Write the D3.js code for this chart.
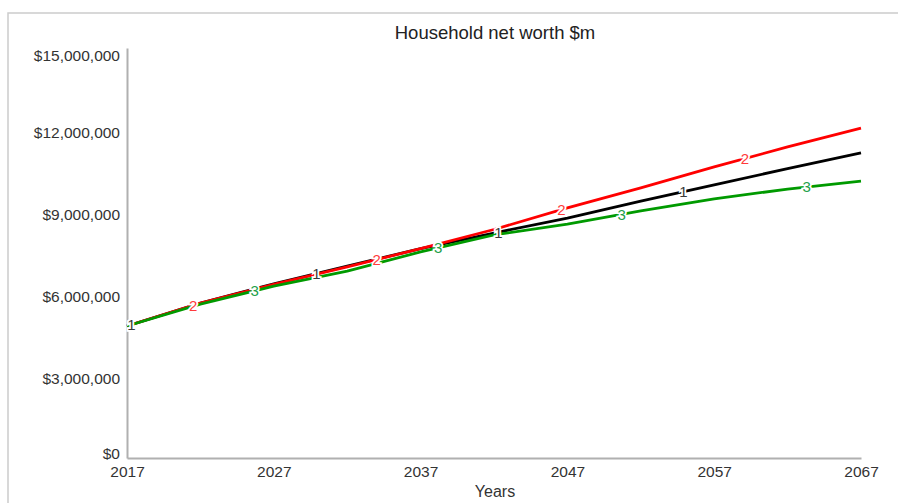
<!DOCTYPE html>
<html>
<head>
<meta charset="utf-8">
<script src="https://cdn.jsdelivr.net/npm/d3@7"></script>
<style>
  html, body { margin: 0; padding: 0; background: #fff; }
  svg { display: block; font-family: "Liberation Sans", Arial, sans-serif; }
</style>
</head>
<body>
<svg id="chart" width="898" height="503"></svg>
<script>
// Projected household net worth, three scenarios ($)
const years = [2017, 2022, 2027, 2032, 2037, 2042, 2047, 2052, 2057, 2062, 2067];
const series1 = [4.83e6, 5.67e6, 6.37e6, 7.02e6, 7.66e6, 8.23e6, 8.78e6, 9.40e6, 9.99e6, 10.59e6, 11.16e6];
const series2 = [4.83e6, 5.67e6, 6.35e6, 6.99e6, 7.66e6, 8.36e6, 9.15e6, 9.88e6, 10.65e6, 11.38e6, 12.07e6];
const series3 = [4.83e6, 5.63e6, 6.29e6, 6.84e6, 7.54e6, 8.16e6, 8.56e6, 9.04e6, 9.48e6, 9.84e6, 10.13e6];
const seriesNames = ["1", "2", "3"];
const lineColors = ["#000000", "#ff0000", "#009a00"];
const labelColors = ["#3a3a3a", "#ff3b3b", "#22a04a"];
// Years at which the series number is written on its line (cycling 1, 2, 3)
const labelYears = [2017.3, 2021.5, 2025.7, 2029.9, 2034.0, 2038.2, 2042.3, 2046.6, 2050.7, 2054.9, 2059.1, 2063.3];
const xTicks = [2017, 2027, 2037, 2047, 2057, 2067];
const yTicks = [0, 3e6, 6e6, 9e6, 12e6, 15e6];
const titleText = "Household net worth $m";
const xTitle = "Years";

const allSeries = [series1, series2, series3];
const svg = d3.select("#chart");

// Outer frame
svg.append("rect")
  .attr("x", 8).attr("y", 13)
  .attr("width", 1000).attr("height", 600)
  .attr("fill", "none")
  .attr("stroke", "#cccccc")
  .attr("stroke-width", 1.5);

const x = d3.scaleLinear().domain([2017, 2067]).range([127, 861]);
const y = d3.scaleLinear().domain([0, 15e6]).range([458, 48]);

// Title
svg.append("text")
  .attr("x", 495).attr("y", 39)
  .attr("text-anchor", "middle")
  .attr("font-size", 18.5)
  .attr("fill", "#222")
  .text(titleText);

// X axis
const xAxis = svg.append("g")
  .attr("transform", `translate(0,${y(0)})`)
  .call(d3.axisBottom(x).tickValues(xTicks).tickFormat(d3.format("d")).tickSize(0).tickPadding(8));
xAxis.select(".domain").attr("stroke", "#b0b0b0").attr("stroke-width", 2);
xAxis.selectAll("text").attr("font-size", 15.5).attr("fill", "#333")
  .attr("font-family", "Liberation Sans, Arial, sans-serif");

// Y axis
const fmt = d => "$" + d3.format(",")(d);
const yAxis = svg.append("g")
  .attr("transform", `translate(${x(2017)},0)`)
  .call(d3.axisLeft(y).tickValues(yTicks).tickFormat(fmt).tickSize(0).tickPadding(7));
yAxis.select(".domain").attr("stroke", "#b0b0b0").attr("stroke-width", 2);
yAxis.selectAll("text")
  .attr("font-size", 15.5).attr("fill", "#333")
  .attr("font-family", "Liberation Sans, Arial, sans-serif")
  .attr("y", d => Math.max(56, Math.min(454, y(d) + 2.5)) - y(d));

// X axis title
svg.append("text")
  .attr("x", 495).attr("y", 497)
  .attr("text-anchor", "middle")
  .attr("font-size", 16)
  .attr("fill", "#333")
  .text(xTitle);

// Lines
const line = d3.line()
  .x((d, i) => x(years[i]))
  .y(d => y(d))
  .curve(d3.curveLinear);

svg.append("g").selectAll("path")
  .data(allSeries)
  .join("path")
  .attr("d", d => line(d))
  .attr("fill", "none")
  .attr("stroke", (d, i) => lineColors[i])
  .attr("stroke-width", 2.8)
  .attr("stroke-linejoin", "round");

// Value of a series at a given year (linear between data points)
function valueAt(vals, yr) {
  const interp = d3.scaleLinear().domain(years).range(vals);
  return interp(yr);
}

// Series numbers written on the lines
svg.append("g").selectAll("text")
  .data(labelYears)
  .join("text")
  .attr("x", d => x(d))
  .attr("y", (d, i) => y(valueAt(allSeries[i % 3], d)))
  .attr("dy", "0.36em")
  .attr("text-anchor", "middle")
  .attr("font-size", 15)
  .attr("fill", (d, i) => labelColors[i % 3])
  .attr("stroke", "#fff")
  .attr("stroke-width", 3.5)
  .attr("paint-order", "stroke")
  .text((d, i) => seriesNames[i % 3]);
</script>
</body>
</html>
